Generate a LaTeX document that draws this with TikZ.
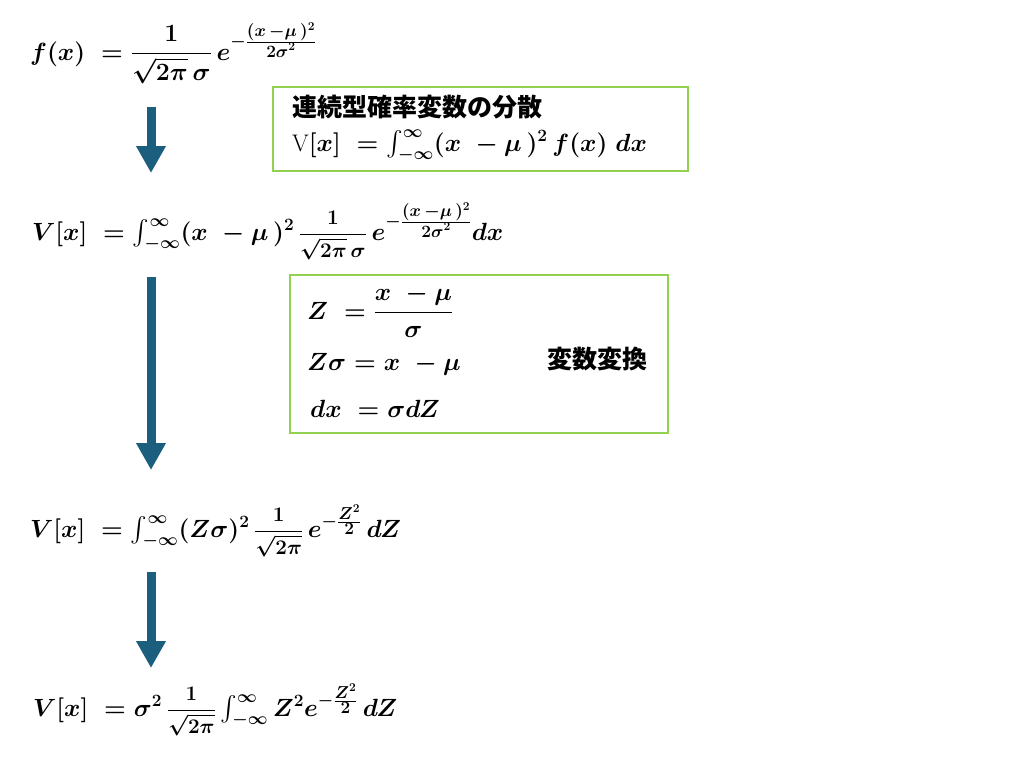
\documentclass[tikz,border=0pt]{standalone}
\usepackage{amsmath}
\usepackage{fontspec}
\usetikzlibrary{arrows.meta}
\newfontfamily\cjk{Noto Sans CJK JP}
\definecolor{arrowblue}{HTML}{1B5E7E}
\definecolor{boxgreen}{HTML}{92D050}
\newcommand\midfrac[2]{\mbox{\fontsize{20}{22}\selectfont$\dfrac{#1}{#2}$}}
\newcommand\expfrac[2]{\frac{\scriptstyle #1}{\scriptstyle #2}}
\newcommand\myeqA{$f(x)\;=\dfrac{1}{\sqrt{2\pi}\,\sigma}\,e^{-\expfrac{(x\,-\mu\,)^2}{2\sigma^2}}$}
\newcommand\myeqB{$V[x]\;=\int_{-\infty}^{\infty}(x\;-\mu\,)^2\,\midfrac{1}{\sqrt{2\pi}\,\sigma}\,e^{-\expfrac{(x\,-\mu\,)^2}{2\sigma^2}}dx$}
\newcommand\myeqC{$V[x]\;=\int_{-\infty}^{\infty}(Z\sigma)^2\,\midfrac{1}{\sqrt{2\pi}}\,e^{-\expfrac{Z^2}{2}}\,dZ$}
\newcommand\myeqD{$V[x]\;=\sigma^2\,\midfrac{1}{\sqrt{2\pi}}\int_{-\infty}^{\infty}Z^2e^{-\expfrac{Z^2}{2}}\,dZ$}
\newcommand\myeqE{$\text{V}[x]\;=\int_{-\infty}^{\infty}(x\;-\mu\,)^2\,f(x)\;dx$}
\newcommand\myeqF{$Z\;=\dfrac{x\;-\mu}{\sigma}$}
\newcommand\myeqG{$Z\sigma=x\;-\mu$}
\newcommand\myeqH{$dx\;=\sigma dZ$}
\tikzset{
  eqn/.style={anchor=base west, inner sep=0pt, font=\fontsize{24}{28}\selectfont\boldmath},
  greenbox/.style={draw=boxgreen, line width=2pt, inner sep=0pt},
  fatarrow/.style={draw=arrowblue, line width=9pt,
    -{Triangle[width=28pt,length=27pt]}},
  jtext/.style={inner sep=0pt, text height=19pt, text depth=0pt,
    font=\fontsize{25}{29}\selectfont\cjk\bfseries}
}
\begin{document}
\begin{tikzpicture}[x=1pt,y=-1pt]
\fill[white] (0,0) rectangle (1024,768);
\path[use as bounding box] (0,0) rectangle (1024,768);
\node[eqn] (eq1) at (30,60) {\myeqA};
\node[eqn] (eq2) at (32,240) {\myeqB};
\node[eqn] (eq3) at (30,537) {\myeqC};
\node[eqn] (eq4) at (33,716) {\myeqD};
\node[greenbox, minimum width=415pt, minimum height=84pt] (box1) at (480.5,129) {};
\node[jtext, anchor=base west] (title) at (292,116) {連続型確率変数の分散};
\node[eqn] (boxeq) at (292,151) {\myeqE};
\node[greenbox, minimum width=378pt, minimum height=158pt] (box2) at (479,354) {};
\node[eqn] (zdef) at (307,319) {\myeqF};
\node[eqn] (zsig) at (307,370) {\myeqG};
\node[eqn] (dxdz) at (310,417) {\myeqH};
\node[jtext, anchor=base] (henkan) at (597,368) {変数変換};
\coordinate (a1s) at (151,107);
\coordinate (a1e) at (151,173);
\coordinate (a2s) at (151,277);
\coordinate (a2e) at (151,470);
\coordinate (a3s) at (151,572);
\coordinate (a3e) at (151,668);
\draw[fatarrow] (a1s) -- (a1e);
\draw[fatarrow] (a2s) -- (a2e);
\draw[fatarrow] (a3s) -- (a3e);
\end{tikzpicture}
\end{document}
